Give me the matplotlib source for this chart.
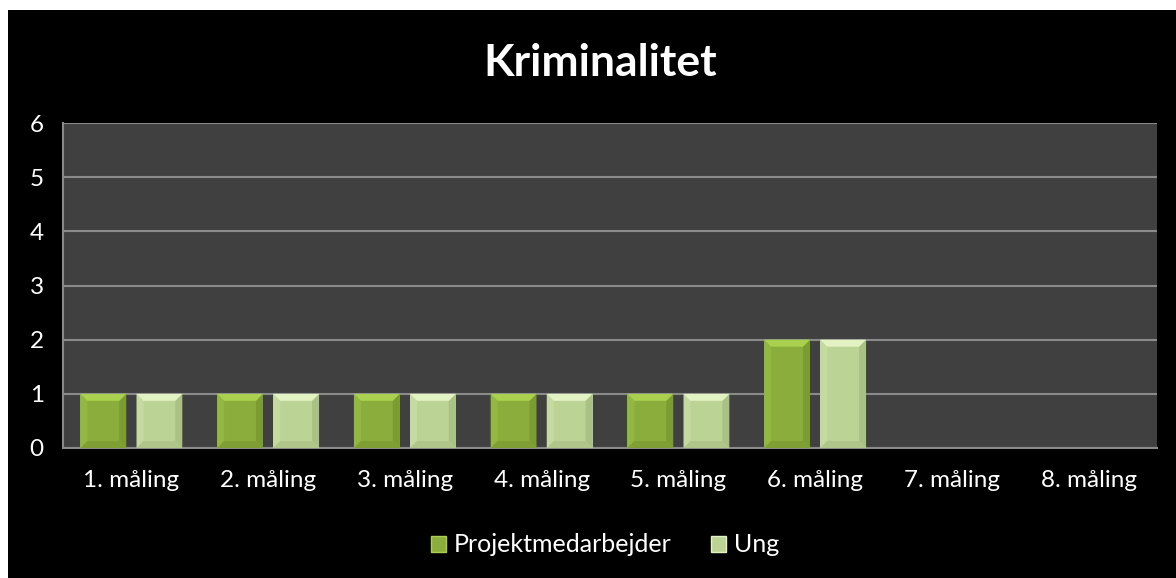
import matplotlib
matplotlib.use("Agg")
import matplotlib.pyplot as plt
from matplotlib.patches import Rectangle, Polygon, Patch
import numpy as np

categories = ["1. måling", "2. måling", "3. måling", "4. måling",
              "5. måling", "6. måling", "7. måling", "8. måling"]
projektmedarbejder = [1, 1, 1, 1, 1, 2, 0, 0]
ung = [1, 1, 1, 1, 1, 2, 0, 0]
series_names = ["Projektmedarbejder", "Ung"]
title = "Kriminalitet"
yticks = [0, 1, 2, 3, 4, 5, 6]

plt.rcParams['font.family'] = ['Lato', 'DejaVu Sans']

W, H = 1176, 578
fig = plt.figure(figsize=(W / 100, H / 100), dpi=100, facecolor="white")
# black chart area (white margin at left and top)
fig.patches.append(Rectangle((8 / W, 0), 1, (H - 10) / H, transform=fig.transFigure,
                             facecolor="black", edgecolor="none", zorder=-10))

ax = fig.add_axes([63 / W, (H - 448) / H, (1157 - 63) / W, (448 - 123) / H])
ax.set_facecolor("#404040")
ax.set_xlim(-0.5, len(categories) - 0.5)
ax.set_ylim(0, 6)

x = np.arange(len(categories))
bw = 0.335
off = 0.205

styles = [
    dict(face="#8aad3b", top="#a9d14f", left="#92b842", right="#7a9c30", bottom="#7f9f34"),
    dict(face="#bcd396", top="#e2f2c2", left="#c4daa0", right="#a9c184", bottom="#afc58a"),
]

bars1 = ax.bar(x - off, projektmedarbejder, width=bw, color=styles[0]["face"], zorder=3)
bars2 = ax.bar(x + off, ung, width=bw, color=styles[1]["face"], zorder=3)

# bevel effect
px_x = (ax.get_xlim()[1] - ax.get_xlim()[0]) / ax.bbox.width
px_y = (ax.get_ylim()[1] - ax.get_ylim()[0]) / ax.bbox.height
bev = 7
for bars, st in ((bars1, styles[0]), (bars2, styles[1])):
    for b in bars:
        h = b.get_height()
        if h <= 0:
            continue
        x0, y0, w = b.get_x(), b.get_y(), b.get_width()
        x1, y1 = x0 + w, y0 + h
        bx, by = bev * px_x, bev * px_y
        ix0, ix1, iy0, iy1 = x0 + bx, x1 - bx, y0 + by, y1 - by
        ax.add_patch(Polygon([(x0, y0), (x0, y1), (ix0, iy1), (ix0, iy0)],
                             facecolor=st["left"], edgecolor="none", zorder=4))
        ax.add_patch(Polygon([(x1, y0), (x1, y1), (ix1, iy1), (ix1, iy0)],
                             facecolor=st["right"], edgecolor="none", zorder=4))
        ax.add_patch(Polygon([(x0, y0), (x1, y0), (ix1, iy0), (ix0, iy0)],
                             facecolor=st["bottom"], edgecolor="none", zorder=4))
        ax.add_patch(Polygon([(x0, y1), (x1, y1), (ix1, iy1), (ix0, iy1)],
                             facecolor=st["top"], edgecolor="none", zorder=4))

ax.set_yticks(yticks)
ax.set_yticklabels([str(v) for v in yticks])
ax.set_xticks(x)
ax.set_xticklabels(categories)
ax.tick_params(axis="both", length=0, colors="white", labelsize=17.5)
ax.tick_params(axis="x", pad=16)
ax.tick_params(axis="y", pad=19)
for lab in ax.get_yticklabels():
    lab.set_horizontalalignment("center")

ax.grid(axis="y", color="#8a8a8a", linewidth=1.5, zorder=1)
ax.set_axisbelow(True)
for s in ("top", "right"):
    ax.spines[s].set_visible(False)
for s in ("left", "bottom"):
    ax.spines[s].set_color("#8a8a8a")
    ax.spines[s].set_linewidth(1.5)

fig.text(600 / W, (H - 63) / H, title, ha="center", va="center",
         color="white", fontsize=32, fontweight="bold")

handles = [Patch(facecolor=styles[0]["face"], edgecolor=styles[0]["top"]),
           Patch(facecolor=styles[1]["face"], edgecolor=styles[1]["top"])]
leg = fig.legend(handles, series_names, loc="center", bbox_to_anchor=(605 / W, (H - 545) / H),
                 ncol=2, frameon=False, fontsize=18, labelcolor="white",
                 handlelength=0.6, handleheight=0.6, handletextpad=0.3, columnspacing=1.6)

fig.savefig("out.png", dpi=100, facecolor=fig.get_facecolor())
